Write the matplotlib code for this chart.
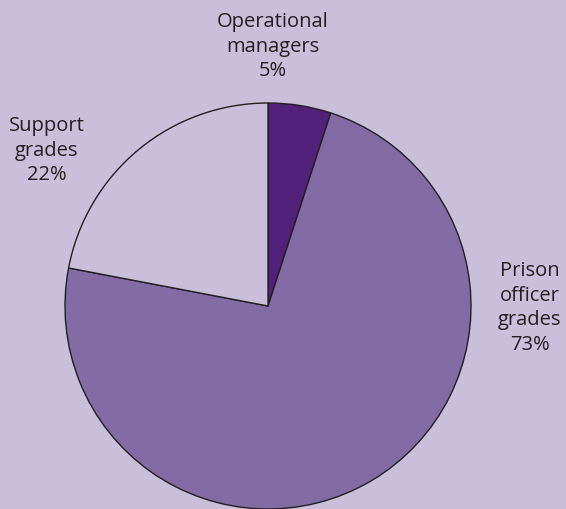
import matplotlib.pyplot as plt

labels = ['Operational\nmanagers\n5%', 'Prison\nofficer\ngrades\n73%', 'Support\ngrades\n22%']
shares = [5, 73, 22]
colors = ['#52217c', '#836ba6', '#c9bfdb']

bg = '#c9bfdb'
W, H = 566, 509
fig = plt.figure(figsize=(W / 100, H / 100), dpi=100, facecolor=bg)

cx, cy, r = 268, 306, 203
ax = fig.add_axes([(cx - r) / W, (H - cy - r) / H, 2 * r / W, 2 * r / H])
ax.set_facecolor(bg)
ax.pie(shares, colors=colors, startangle=90, counterclock=False,
       wedgeprops=dict(edgecolor='#231f20', linewidth=1.0), radius=1)
ax.set_xlim(-1.0, 1.0)
ax.set_ylim(-1.0, 1.0)
ax.set_aspect('equal')
ax.axis('off')

# label positions in pixels (centre of text block)
pos = [(273, 47), (530, 308), (47, 151)]
for lab, (px, py) in zip(labels, pos):
    fig.text(px / W, 1 - py / H, lab, ha='center', va='center',
             fontsize=14.5, color='#231f20', family='Open Sans',
             linespacing=1.3)

fig.savefig('out.png', dpi=100, facecolor=bg)
